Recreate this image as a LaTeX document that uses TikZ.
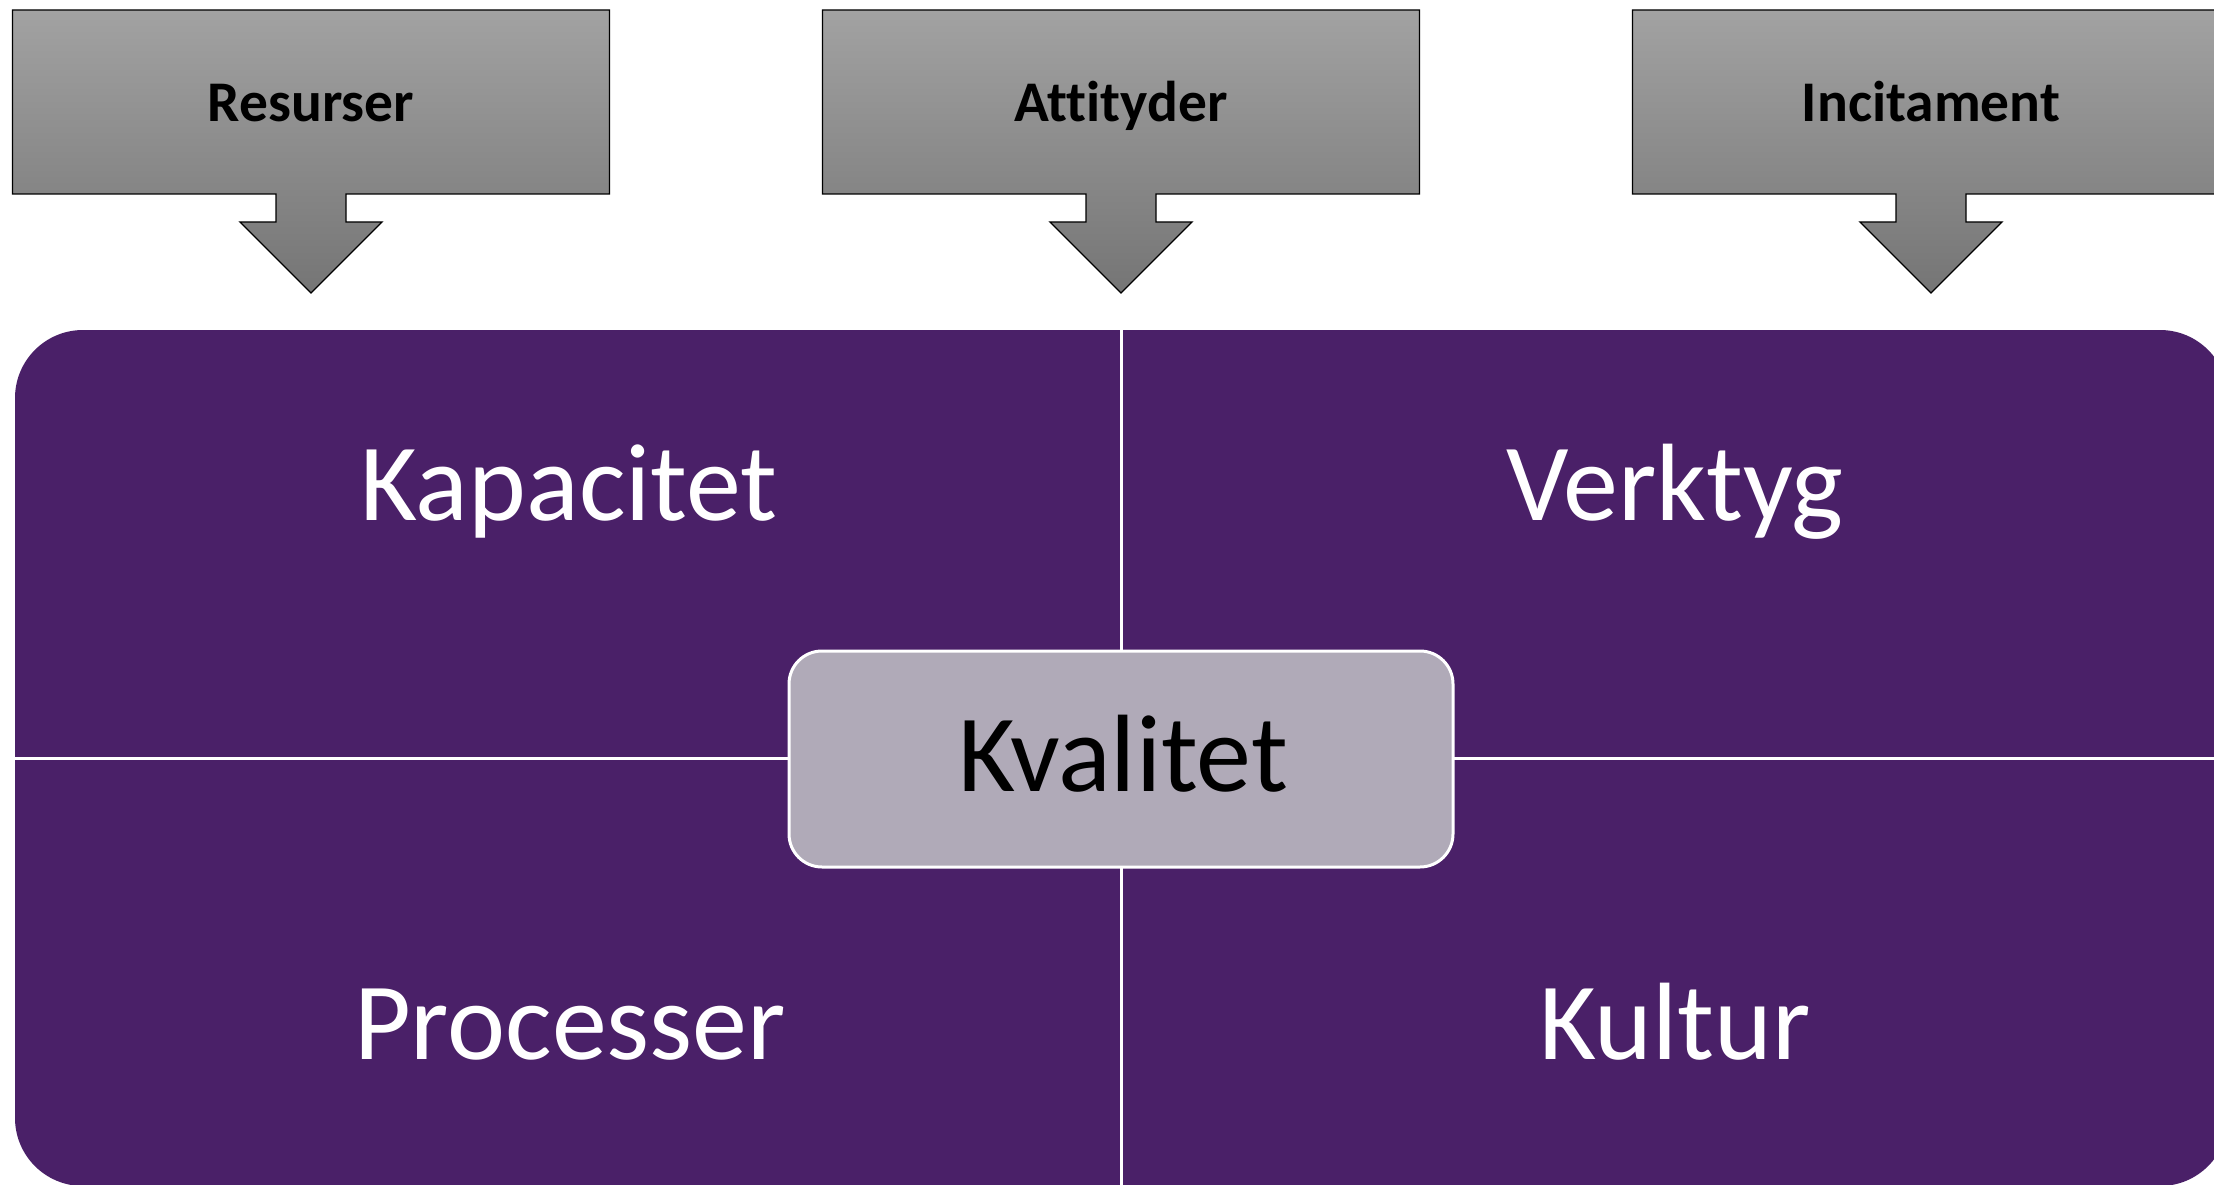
\documentclass[tikz,border=0pt]{standalone}
\usepackage{fontspec}
\setmainfont{Carlito}[Ligatures={NoCommon}]

\definecolor{matrixpurple}{HTML}{4A2068}
\definecolor{hubfill}{HTML}{B0AAB8}
\definecolor{calloutTop}{HTML}{A2A2A2}
\definecolor{calloutBottom}{HTML}{757575}

\tikzset{
  callout/.style={draw=black, line width=1.3pt, top color=calloutTop, bottom color=calloutBottom},
  calloutlabel/.style={font=\bfseries\fontsize{57.5}{60}\selectfont, anchor=base, inner sep=0pt},
  quadlabel/.style={text=white, font=\fontsize{110}{112}\selectfont, anchor=base, inner sep=0pt},
  hub/.style={draw=white, line width=3pt, fill=hubfill, rounded corners=33pt,
              minimum width=664pt, minimum height=216pt, inner sep=0pt},
  hublabel/.style={text=black, font=\fontsize{110}{112}\selectfont, anchor=base, inner sep=0pt},
  divider/.style={draw=white, line width=3pt},
}

\begin{document}
\begin{tikzpicture}[x=1pt, y=-1pt]
  \useasboundingbox (0,0) rectangle (2214,1185);
  \clip (0,0) rectangle (2214,1185);

  % three down-pointing callouts
  \foreach \cx/\name/\txt in {311/res/Resurser, 1121/att/Attityder, 1931/inc/Incitament}{
    \path[callout]
      (\cx-298.5,10) -- (\cx+298.5,10) -- (\cx+298.5,194) -- (\cx+35,194)
      -- (\cx+35,222) -- (\cx+71,222) -- (\cx,293) -- (\cx-71,222)
      -- (\cx-35,222) -- (\cx-35,194) -- (\cx-298.5,194) -- cycle;
    \node[calloutlabel] (\name) at (\cx,122) {\txt};
  }

  % matrix body with dividing lines
  \fill[matrixpurple, rounded corners=68pt] (15,330) rectangle (2228,1186);
  \coordinate (divtop) at (1121,330);
  \coordinate (divbottom) at (1121,1190);
  \coordinate (divleft) at (15,758);
  \coordinate (divright) at (2230,758);
  \draw[divider] (divtop) -- (divbottom);
  \draw[divider] (divleft) -- (divright);

  % quadrant labels
  \node[quadlabel] (kap) at (569,520)  {Kapacitet};
  \node[quadlabel] (verk) at (1675,520) {Verktyg};
  \node[quadlabel] (proc) at (570,1059) {Processer};
  \node[quadlabel] (kult) at (1675,1059) {Kultur};

  % centre box
  \node[hub] (hub) at (1121,759) {};
  \node[hublabel] (kval) at (1123,791) {Kvalitet};
\end{tikzpicture}
\end{document}
